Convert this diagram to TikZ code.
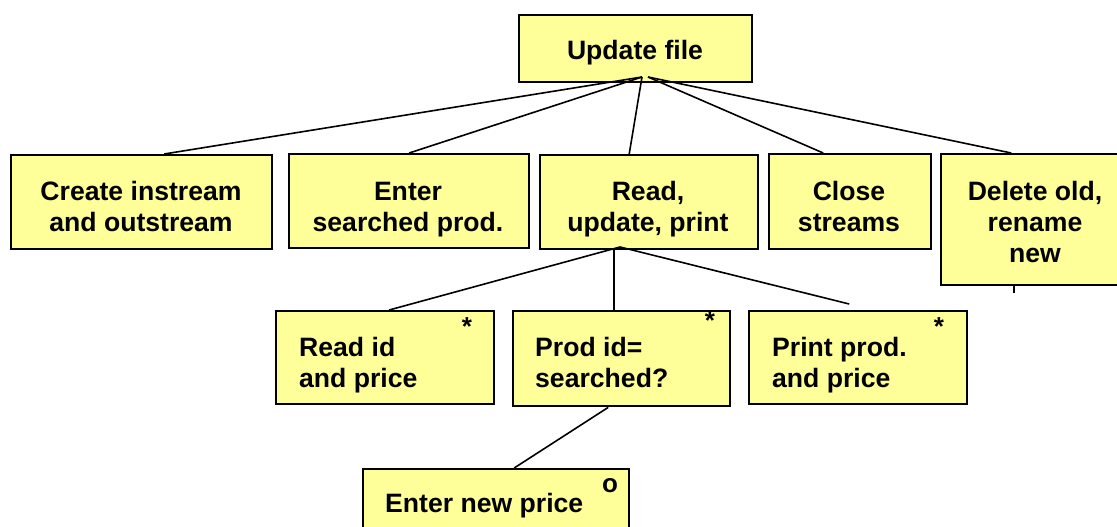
\documentclass[tikz,border=0pt]{standalone}
\usepackage{fontspec}
\setmainfont{Liberation Sans}
\definecolor{boxyellow}{HTML}{FFFF99}
\tikzset{
  box/.style={draw=black, line width=2.4pt, fill=boxyellow, anchor=north west, inner sep=0pt},
  lbl/.style={font=\fontsize{26.6}{31}\selectfont\bfseries, inner sep=0pt, anchor=base},
  lblL/.style={lbl, anchor=base west},
  starmark/.style={font=\fontsize{26}{28}\selectfont\bfseries, inner sep=0pt, anchor=center},
  conn/.style={line width=1.6pt}
}
\begin{document}
\begin{tikzpicture}[x=1pt,y=-1pt]
\useasboundingbox (0,0) rectangle (1117,527);
% boxes
\node[box, minimum width=233pt, minimum height=67pt] (upd) at (518,14) {};
\node[box, minimum width=261pt, minimum height=94pt] (create) at (10,154) {};
\node[box, minimum width=240pt, minimum height=94pt] (enter) at (288,153) {};
\node[box, minimum width=218pt, minimum height=94pt] (rup) at (539,154) {};
\node[box, minimum width=162pt, minimum height=95pt] (close) at (768,153) {};
\node[box, minimum width=178pt, minimum height=131pt] (del) at (940,153) {};
\node[box, minimum width=218pt, minimum height=93pt] (readid) at (275,310) {};
\node[box, minimum width=217pt, minimum height=95pt] (prodid) at (512,310) {};
\node[box, minimum width=218pt, minimum height=93pt] (print) at (748,310) {};
\node[box, minimum width=266pt, minimum height=70pt] (newp) at (362,468) {};
% texts
\node[lbl] (t-upd) at (635,60) {Update file};
\node[lbl] (t-cr1) at (141,200) {Create instream};
\node[lbl] (t-cr2) at (141,231) {and outstream};
\node[lbl] (t-en1) at (408,200) {Enter};
\node[lbl] (t-en2) at (408,231) {searched prod.};
\node[lbl] (t-ru1) at (648,200) {Read,};
\node[lbl] (t-ru2) at (648,231) {update, print};
\node[lbl] (t-cl1) at (849,200) {Close};
\node[lbl] (t-cl2) at (849,231) {streams};
\node[lbl] (t-de1) at (1035,200) {Delete old,};
\node[lbl] (t-de2) at (1035,231) {rename};
\node[lbl] (t-de3) at (1035,262) {new};
\node[lblL] (t-ri1) at (299,356) {Read id};
\node[lblL] (t-ri2) at (299,387) {and price};
\node[lblL] (t-pi1) at (535,356) {Prod id=};
\node[lblL] (t-pi2) at (535,387) {searched?};
\node[lblL] (t-pp1) at (772,356) {Print prod.};
\node[lblL] (t-pp2) at (772,387) {and price};
\node[lblL] (t-np) at (385,512) {Enter new price};
\node[starmark] (s1) at (467,327) {*};
\node[starmark] (s2) at (710,321) {*};
\node[starmark] (s3) at (939,327) {*};
\node[starmark] (s4) at (610,486) {o};
% connectors
\coordinate (hubL) at (642,77);
\coordinate (hubR) at (648,77);
\draw[conn] (hubL) -- ([xshift=22.5pt]create.north);
\draw[conn] (hubL) -- (enter.north);
\draw[conn] (hubL) -- ([xshift=-20pt]rup.north);
\draw[conn] (hubR) -- ([xshift=-27pt]close.north);
\draw[conn] (hubR) -- ([xshift=-19pt]del.north);
\coordinate (rupHub) at (620,247);
\draw[conn] (rupHub) -- ([xshift=4pt]readid.north);
\draw[conn] ([xshift=-35pt]rup.south) -- ([xshift=-7.5pt]prodid.north);
\draw[conn] (rupHub) -- ([xshift=-9pt,yshift=6pt]print.north);
\draw[conn] ([xshift=-13.5pt]prodid.south) -- ([xshift=18pt]newp.north);
\coordinate (delstub) at (1014,293);
\draw[conn] (del.south -| delstub) -- (delstub);
\end{tikzpicture}
\end{document}
